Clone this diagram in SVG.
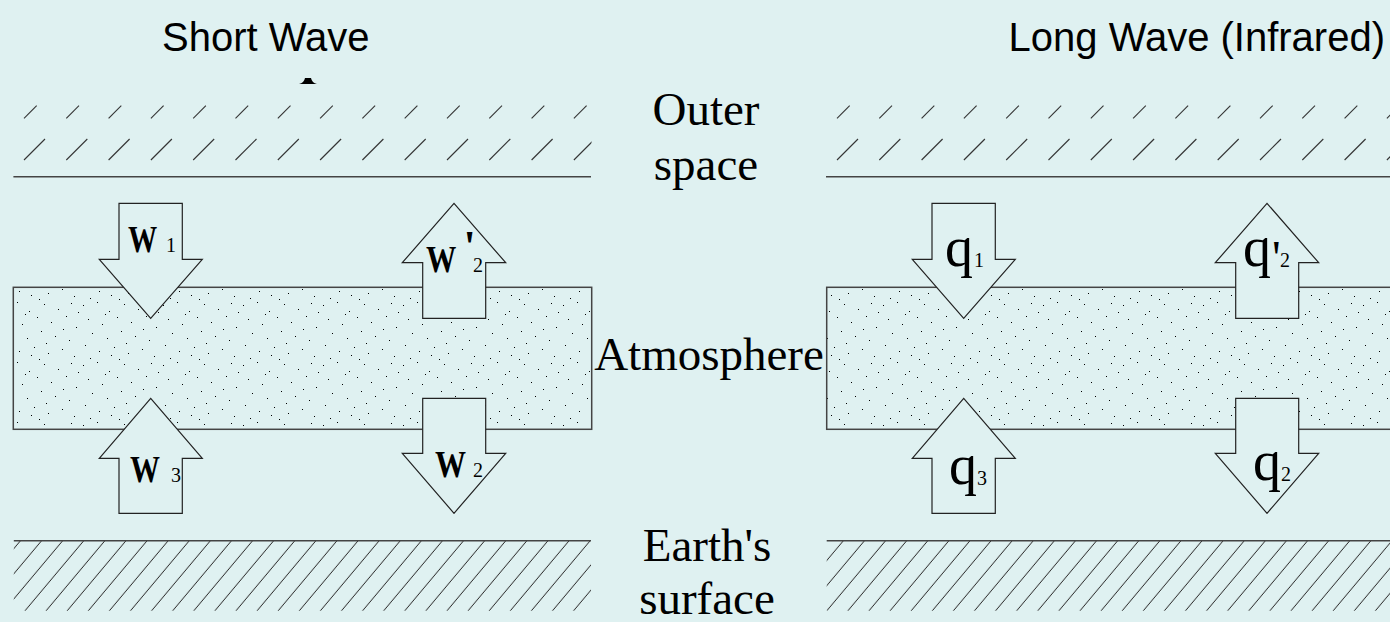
<svg xmlns="http://www.w3.org/2000/svg" width="1390" height="622" viewBox="0 0 1390 622">
<defs>
<style>
.bg{fill:#DFF1F1}
.title{font-family:"Liberation Sans",Arial,sans-serif;font-size:40px;fill:#000}
.lbl{font-family:"Liberation Serif","Times New Roman",serif;font-size:47px;fill:#000;text-anchor:middle}
.w{font-family:"Liberation Serif","Times New Roman",serif;font-size:37px;font-weight:bold;fill:#000}
.q{font-family:"Liberation Serif","Times New Roman",serif;font-size:56px;fill:#000}
.sub{font-family:"Liberation Serif","Times New Roman",serif;font-size:20px;fill:#000}
.prb{font-family:"Liberation Serif","Times New Roman",serif;font-size:44px;font-weight:bold;fill:#000}
.pr{font-family:"Liberation Serif","Times New Roman",serif;font-size:48px;fill:#000}
.arrow{fill:#DFF1F1;stroke:#222;stroke-width:1.2;stroke-linejoin:miter}
.edge{stroke:#444;stroke-width:1.6;fill:none}
.slash{stroke:#333;stroke-width:1.1}
.atm{fill:url(#dots);stroke:#444;stroke-width:1.5}
</style>
<pattern id="dots" patternUnits="userSpaceOnUse" width="80" height="60">
<rect width="80" height="60" fill="#DFF1F1"/>
<g fill="#000">
<rect x="3" y="5" width="1" height="1"/><rect x="17" y="2" width="1" height="1"/><rect x="29" y="11" width="1" height="1"/><rect x="44" y="4" width="1" height="1"/><rect x="58" y="9" width="1" height="1"/><rect x="71" y="3" width="1" height="1"/><rect x="8" y="19" width="1" height="1"/><rect x="22" y="24" width="1" height="1"/><rect x="37" y="17" width="1" height="1"/><rect x="51" y="22" width="1" height="1"/><rect x="66" y="16" width="1" height="1"/><rect x="76" y="27" width="1" height="1"/><rect x="12" y="33" width="1" height="1"/><rect x="27" y="38" width="1" height="1"/><rect x="41" y="31" width="1" height="1"/><rect x="55" y="36" width="1" height="1"/><rect x="69" y="40" width="1" height="1"/><rect x="5" y="45" width="1" height="1"/><rect x="19" y="51" width="1" height="1"/><rect x="34" y="47" width="1" height="1"/><rect x="48" y="53" width="1" height="1"/><rect x="62" y="49" width="1" height="1"/><rect x="74" y="56" width="1" height="1"/><rect x="10" y="58" width="1" height="1"/><rect x="39" y="59" width="1" height="1"/><rect x="25" y="14" width="1" height="1"/><rect x="63" y="29" width="1" height="1"/><rect x="46" y="43" width="1" height="1"/><rect x="31" y="55" width="1" height="1"/><rect x="78" y="12" width="1" height="1"/>
</g>
</pattern>
<pattern id="hatch" patternUnits="userSpaceOnUse" width="21.1" height="10" patternTransform="skewX(-40)">
<line x1="10" y1="-1" x2="10" y2="11" stroke="#333" stroke-width="1.1"/>
</pattern>
<clipPath id="clipL"><rect x="13" y="95" width="578.5" height="80"/></clipPath>
<clipPath id="clipR"><rect x="826" y="95" width="564" height="80"/></clipPath>
<g id="slashRow">
<line class="slash" x1="24" y1="118.3" x2="36.7" y2="105.6"/><line class="slash" x1="66.3" y1="118.3" x2="79" y2="105.6"/><line class="slash" x1="108.6" y1="118.3" x2="121.3" y2="105.6"/><line class="slash" x1="150.9" y1="118.3" x2="163.6" y2="105.6"/><line class="slash" x1="193.2" y1="118.3" x2="205.9" y2="105.6"/><line class="slash" x1="235.5" y1="118.3" x2="248.2" y2="105.6"/><line class="slash" x1="277.8" y1="118.3" x2="290.5" y2="105.6"/><line class="slash" x1="320.1" y1="118.3" x2="332.8" y2="105.6"/><line class="slash" x1="362.4" y1="118.3" x2="375.1" y2="105.6"/><line class="slash" x1="404.7" y1="118.3" x2="417.4" y2="105.6"/><line class="slash" x1="447" y1="118.3" x2="459.7" y2="105.6"/><line class="slash" x1="489.3" y1="118.3" x2="502" y2="105.6"/><line class="slash" x1="531.6" y1="118.3" x2="544.3" y2="105.6"/><line class="slash" x1="573.9" y1="118.3" x2="586.6" y2="105.6"/>
<line class="slash" x1="24" y1="160" x2="45" y2="139"/><line class="slash" x1="66.3" y1="160" x2="87.3" y2="139"/><line class="slash" x1="108.6" y1="160" x2="129.6" y2="139"/><line class="slash" x1="150.9" y1="160" x2="171.9" y2="139"/><line class="slash" x1="193.2" y1="160" x2="214.2" y2="139"/><line class="slash" x1="235.5" y1="160" x2="256.5" y2="139"/><line class="slash" x1="277.8" y1="160" x2="298.8" y2="139"/><line class="slash" x1="320.1" y1="160" x2="341.1" y2="139"/><line class="slash" x1="362.4" y1="160" x2="383.4" y2="139"/><line class="slash" x1="404.7" y1="160" x2="425.7" y2="139"/><line class="slash" x1="447" y1="160" x2="468" y2="139"/><line class="slash" x1="489.3" y1="160" x2="510.3" y2="139"/><line class="slash" x1="531.6" y1="160" x2="552.6" y2="139"/><line class="slash" x1="573.9" y1="160" x2="594.9" y2="139"/>
</g>
</defs>
<rect class="bg" x="0" y="0" width="1390" height="622"/>

<g id="titles">
<text class="title" x="162" y="51">Short Wave</text>
<text class="title" x="1385" y="51" text-anchor="end">Long Wave (Infrared)</text>
<path d="M299,84 L317,84 Q312,83 311,78 L305,78 Q304,83 299,84 Z" fill="#000"/>
</g>

<g id="outer-space-left">
<g clip-path="url(#clipL)"><use href="#slashRow"/></g>
<line class="edge" x1="13.4" y1="176.7" x2="591" y2="176.7"/>
</g>
<g id="outer-space-right">
<g clip-path="url(#clipR)"><use href="#slashRow" transform="translate(813,0)"/><use href="#slashRow" transform="translate(1405,0)"/></g>
<line class="edge" x1="826" y1="176.7" x2="1390" y2="176.7"/>
</g>

<g id="labels">
<text class="lbl" x="706" y="125">Outer</text>
<text class="lbl" x="706" y="180">space</text>
<text class="lbl" x="709" y="370">Atmosphere</text>
<text class="lbl" x="707" y="561">Earth's</text>
<text class="lbl" x="707" y="614">surface</text>
</g>

<g id="atmosphere-left">
<rect class="atm" x="13.3" y="287.3" width="578.4" height="142"/>
</g>
<g id="atmosphere-right">
<rect class="atm" x="826.7" y="287.3" width="600" height="142"/>
</g>

<g id="earth-left">
<rect x="13.8" y="540.7" width="577.2" height="70" fill="url(#hatch)"/>
<line class="edge" x1="13.8" y1="540.7" x2="591" y2="540.7"/>
</g>
<g id="earth-right">
<rect x="826.7" y="540.7" width="563.3" height="70" fill="url(#hatch)"/>
<line class="edge" x1="826.7" y1="540.7" x2="1390" y2="540.7"/>
</g>

<g id="connectors">
<g id="arrow-w1">
<path class="arrow" d="M119,203.3 H182.3 V259.3 H202.3 L150.7,318.3 L99.3,259.3 H119 Z"/>
<text class="w" transform="translate(128,251.7) scale(0.79,1)">W</text><text class="sub" x="166" y="252">1</text>
</g>
<g id="arrow-w2p">
<path class="arrow" d="M454,203.3 L505.7,262.7 H485.7 V318.3 H422.7 V262.7 H402.3 Z"/>
<text class="w" transform="translate(426,271.7) scale(0.82,1)">W</text><text class="prb" x="463.5" y="260.5">'</text><text class="sub" x="473" y="271.7">2</text>
</g>
<g id="arrow-w3">
<path class="arrow" d="M150.7,398.3 L202.3,458.3 H182.3 V513.3 H119 V458.3 H99.3 Z"/>
<text class="w" transform="translate(130,481.7) scale(0.81,1)">W</text><text class="sub" x="171" y="481.7">3</text>
</g>
<g id="arrow-w2">
<path class="arrow" d="M422.7,398.3 H485.7 V453.3 H505.7 L454,513.3 L402.3,453.3 H422.7 Z"/>
<text class="w" transform="translate(435,476.7) scale(0.84,1)">W</text><text class="sub" x="473" y="476.7">2</text>
</g>
<g id="arrow-q1">
<path class="arrow" d="M932,203.3 H995.3 V259.3 H1015.3 L963.7,318.3 L912.3,259.3 H932 Z"/>
<text class="q" x="945" y="265.8">q</text><text class="sub" x="974" y="266.7">1</text>
</g>
<g id="arrow-q2p">
<path class="arrow" d="M1267,203.3 L1318.7,262.7 H1298.7 V318.3 H1235.7 V262.7 H1215.3 Z"/>
<text class="q" x="1243" y="265.8">q</text><text class="pr" x="1272" y="274">'</text><text class="sub" x="1280" y="266.7">2</text>
</g>
<g id="arrow-q3">
<path class="arrow" d="M963.7,398.3 L1015.3,458.3 H995.3 V513.3 H932 V458.3 H912.3 Z"/>
<text class="q" x="949" y="484">q</text><text class="sub" x="977" y="485">3</text>
</g>
<g id="arrow-q2">
<path class="arrow" d="M1235.7,398.3 H1298.7 V453.3 H1318.7 L1267,513.3 L1215.3,453.3 H1235.7 Z"/>
<text class="q" x="1253" y="480">q</text><text class="sub" x="1281" y="481">2</text>
</g>
</g>
</svg>
